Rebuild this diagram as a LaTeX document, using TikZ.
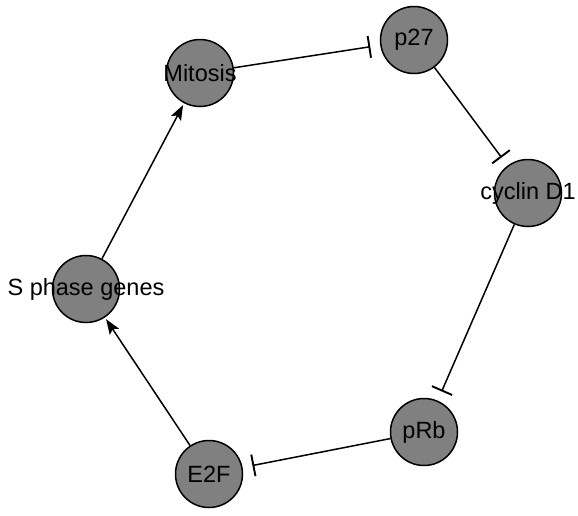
\documentclass[tikz,border=0pt]{standalone}
\usepackage{fontspec}
\setmainfont{Liberation Sans}
\usetikzlibrary{arrows.meta}
\begin{document}
\begin{tikzpicture}[x=1pt,y=-1pt,
  gene/.style={circle, draw=black, line width=1.5pt, fill=black!50,
    minimum size=67pt, inner sep=0pt},
  label/.style={font=\fontsize{23.5}{26}\selectfont, text=black},
  activates/.style={line width=1.5pt, -{Stealth[length=15pt,width=11pt,inset=3pt]}, shorten >=2pt},
  inhibits/.style={line width=1.5pt, -{Bar[width=22pt,line width=1.9pt]}, shorten >=10pt}]
  \path[use as bounding box] (0,0) rectangle (578,515);
  % gene circles
  \node[gene] (mit) at (200,73) {};
  \node[gene] (p27) at (414,40) {};
  \node[gene] (cyc) at (528,193) {};
  \node[gene] (prb) at (424,432) {};
  \node[gene] (e2f) at (209,474) {};
  \node[gene] (sph) at (86,289) {};
  % labels on top of the circles
  \node[label] (mitL) at (mit) {Mitosis};
  \node[label] (p27L) at (p27) {p27};
  \node[label] (cycL) at (cyc) {cyclin D1};
  \node[label] (prbL) at (prb) {pRb};
  \node[label] (e2fL) at (e2f) {E2F};
  \node[label] (sphL) at (sph) {S phase genes};
  % regulatory interactions
  \draw[inhibits] (mit) -- (p27);
  \draw[inhibits] (p27) -- (cyc);
  \draw[inhibits] (cyc) -- (prb);
  \draw[inhibits] (prb) -- (e2f);
  \draw[activates] (e2f) -- (sph);
  \draw[activates] (sph) -- (mit);
\end{tikzpicture}
\end{document}
